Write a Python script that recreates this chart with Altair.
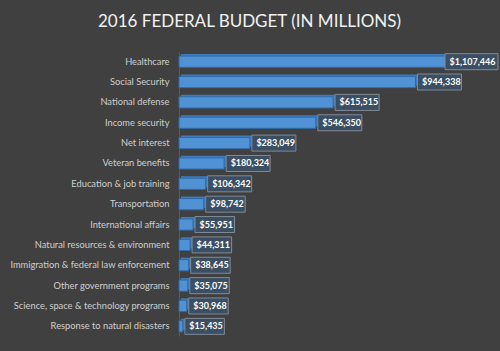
import altair as alt
import pandas as pd

categories = [
    "Healthcare", "Social Security", "National defense", "Income security",
    "Net interest", "Veteran benefits", "Education & job training",
    "Transportation", "International affairs", "Natural resources & environment",
    "Immigration & federal law enforcement", "Other government programs",
    "Science, space & technology programs", "Response to natural disasters",
]
values = [1107446, 944338, 615515, 546350, 283049, 180324, 106342,
          98742, 55951, 44311, 38645, 35075, 30968, 15435]
labels = ["$" + format(v, ",") for v in values]

df = pd.DataFrame({"category": categories, "value": values, "label": labels})

BOXW = "(4.5*length(datum.label)+8)"
SHIFT = f"min(2, width + 6 - scale('x', datum.value) - {BOXW})"

y_enc = alt.Y("category:N", sort=categories, title=None,
              scale=alt.Scale(paddingInner=0.45, paddingOuter=0.2),
              axis=alt.Axis(labelColor="#cfcfcf", labelFont="Lato", labelFontSize=9.3,
                            labelPadding=10, ticks=False, domainColor="#5a5a5a",
                            domainWidth=1, grid=False))
x_scale = alt.Scale(domain=[0, 1250000], nice=False)

base = alt.Chart(df)

tops = base.mark_bar(color="#3d7cc0", yOffset=-2, xOffset=2, x2Offset=2).encode(
    x=alt.X("value:Q", scale=x_scale, axis=None),
    y=y_enc,
)

bars = base.mark_bar(color="#5192d4", stroke="#2f6aa8", strokeWidth=1).encode(
    x=alt.X("value:Q", scale=x_scale, axis=None),
    y=alt.Y("category:N", sort=categories),
)

boxes = base.mark_bar(height=16, fill="#3b4e62", stroke="#7f8b97", strokeWidth=1,
                      xOffset={"expr": SHIFT},
                      x2Offset={"expr": f"{SHIFT} + {BOXW}"}).encode(
    x=alt.X("value:Q", scale=x_scale, axis=None),
    x2="value:Q",
    y=alt.Y("category:N", sort=categories),
)

texts = base.mark_text(align="left", baseline="middle", font="Lato", fontSize=9,
                       fontWeight="bold", color="#ffffff",
                       xOffset={"expr": f"{SHIFT} + 4.5"}).encode(
    x=alt.X("value:Q", scale=x_scale, axis=None),
    y=alt.Y("category:N", sort=categories),
    text="label:N",
)

chart = (tops + bars + boxes + texts).properties(
    width=313, height=284,
    background="#404040",
    padding={"left": 179, "top": 52, "right": 8, "bottom": 15},
    autosize=alt.AutoSizeParams(type="none"),
    title=alt.TitleParams("2016 FEDERAL BUDGET (IN MILLIONS)", font="Lato", fontSize=17,
                          fontWeight="normal", color="#f2f2f2", anchor="middle",
                          dx=-86, offset=8, baseline="alphabetic"),
).configure_view(stroke=None)

chart.save("out.html", embed_options={"renderer": "svg", "actions": False})
